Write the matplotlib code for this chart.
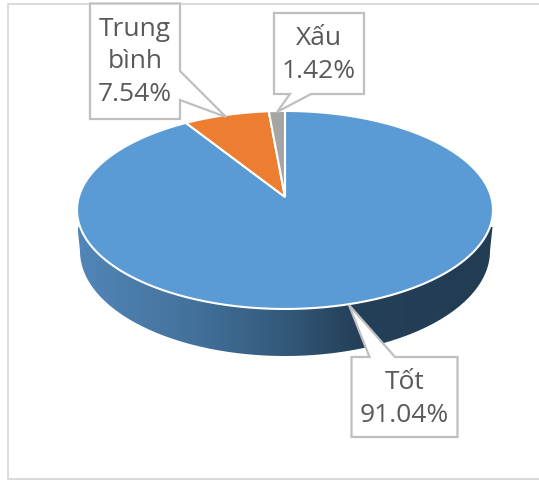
import numpy as np
import matplotlib
matplotlib.use("Agg")
import matplotlib.pyplot as plt
from matplotlib.patches import Polygon
from matplotlib.colors import LinearSegmentedColormap

categories = ["Tốt", "Trung\nbình", "Xấu"]
values = [91.04, 7.54, 1.42]
colors = ["#5b9bd5", "#ed7d31", "#a5a5a5"]

plt.rcParams["font.family"] = ["Open Sans", "Noto Sans", "DejaVu Sans"]
W, H = 539, 480
fig = plt.figure(figsize=(W / 100, H / 100), dpi=100)
ax = fig.add_axes([0, 0, 1, 1])

# perspective projection of the pie disc onto the page
APEX_X, APEX_Y = 285.0, 197.0
A, B, K = 206.2, 97.3, 0.131


def project(t):
    t = np.asarray(t)
    w = 1 + K * np.cos(t)
    return APEX_X + A * np.sin(t) / w, APEX_Y - B * np.cos(t) / w


# frame (open on the right, as cropped in the reference)
ax.plot([W + 2, 7.5, 7.5, W + 2], [3.5, 3.5, 479, 479], color="#d9d9d9", lw=1.4, zorder=1)

# side wall: gradient clipped to the extruded lower rim
lo = np.linspace(np.pi, 0, 200)
wall_x = np.r_[285 + 205 * np.cos(lo), 492.5, 77.5]
wall_y = np.r_[251 + 105 * np.sin(lo), 227, 227]
wall = Polygon(np.c_[wall_x, wall_y], closed=True, facecolor="none", edgecolor="none", zorder=2)
ax.add_patch(wall)
cmap = LinearSegmentedColormap.from_list(
    "wall", [(0, "#5286b8"), (0.27, "#43729c"), (0.5, "#33597a"), (0.68, "#243f58"), (1, "#223c54")]
)
grad = ax.imshow(
    np.linspace(0, 1, 256).reshape(1, -1), cmap=cmap, extent=[78, 493, 360, 220],
    aspect="auto", zorder=2, interpolation="bilinear",
)
grad.set_clip_path(wall)

# top face, one wedge per value
fractions = np.array(values) / sum(values)
edges = np.r_[0, np.cumsum(fractions)] * 2 * np.pi
for i, color in enumerate(colors):
    t = np.linspace(edges[i], edges[i + 1], 300)
    x, y = project(t)
    ax.fill(np.r_[APEX_X, x], np.r_[APEX_Y, y], facecolor=color, edgecolor="white",
            lw=1.5, joinstyle="miter", zorder=3)

# callouts: box outline with pointer built in
boxes = [
    [(351.5, 357), (369.5, 357), (349, 305), (395, 357), (457.5, 357), (457.5, 437), (351.5, 437)],
    [(90, 3.5), (180, 3.5), (180, 71), (226, 117), (180, 100), (180, 119), (90, 119)],
    [(274, 13), (364, 13), (364, 94), (311, 94), (277, 112), (290, 94), (274, 94)],
]
text_xy = [(404.5, 399), (135, 62), (319, 55)]
for cat, val, box, (tx, ty) in zip(categories, values, boxes, text_xy):
    ax.add_patch(Polygon(box, closed=True, facecolor="white", edgecolor="#bfbfbf", lw=1.6,
                         joinstyle="miter", zorder=4))
    ax.text(tx, ty, f"{cat}\n{val:.2f}%", ha="center", va="center", ma="center", fontsize=19,
            color="#595959", linespacing=1.42, zorder=5)

ax.set_xlim(0, W)
ax.set_ylim(H, 0)
ax.axis("off")
fig.savefig("out.png", dpi=100)
